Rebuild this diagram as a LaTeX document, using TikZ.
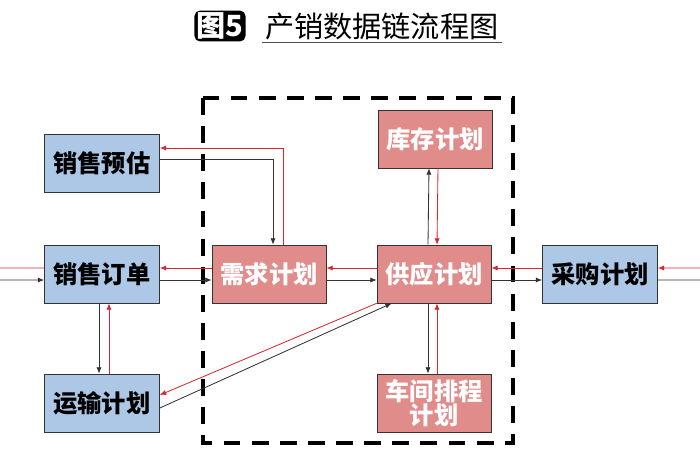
\documentclass[tikz,border=0pt]{standalone}
\usepackage{fontspec}
\setmainfont{Noto Sans CJK SC}
\usetikzlibrary{arrows.meta}
\definecolor{bluebox}{RGB}{172,200,230}
\definecolor{redbox}{RGB}{224,140,138}
\definecolor{redline}{RGB}{215,40,50}
\tikzset{
  bluenode/.style={draw=black!80, fill=bluebox, minimum width=2.875cm, minimum height=1.45cm, font=\bfseries\LARGE},
  rednode/.style={draw=black!80, fill=redbox, text=white, minimum width=2.85cm, minimum height=1.45cm, font=\bfseries\LARGE, align=center},
  blk/.style={draw=black!80, line width=0.6pt, -{Latex[length=1.6mm,width=1.3mm]}},
  rd/.style={draw=redline, line width=0.6pt, -{Latex[length=1.6mm,width=1.3mm]}}
}
\begin{document}
\begin{tikzpicture}[x=0.025cm, y=-0.025cm]
\useasboundingbox (0,0) rectangle (700,470);
% title
\node[fill=black, text=white, rounded corners=4pt, font=\bfseries\huge, inner sep=1.5pt] (tag) at (220,26) {图5};
\node[anchor=west, font=\huge, inner sep=2pt] (title) at (262,26) {产销数据链流程图};
\draw[black!70] (title.south west) -- (title.south east);

% dashed frame
\draw[line width=2.5pt, dash pattern=on 12pt off 8pt] (203,98) rectangle (513,443);

% boxes
\node[bluenode] (yg) at (102,163) {销售预估};
\node[bluenode] (dd) at (102,274) {销售订单};
\node[bluenode] (ys) at (102,403) {运输计划};
\node[rednode] (xq) at (269,274) {需求计划};
\node[rednode] (kc) at (435,139) {库存计划};
\node[rednode] (gy) at (434,274) {供应计划};
\node[rednode, inner sep=1pt] (cj) at (434,403) {车间排程\\[-5pt]计划};
\node[bluenode] (cg) at (600,274) {采购计划};

% outside ends
\coordinate (lin) at (0,280);
\coordinate (lout) at (0,268);
\coordinate (rin) at (700,268);
\coordinate (rout) at (700,280);

% horizontal links
\draw[blk] (lin) -- ([yshift=-0.15cm]dd.west);
\draw[draw=redline, line width=0.6pt] ([yshift=0.15cm]dd.west) -- (lout);
\draw[blk] ([yshift=-0.15cm]dd.east) -- ([yshift=-0.15cm]xq.west);
\draw[rd] ([yshift=0.15cm]xq.west) -- ([yshift=0.15cm]dd.east);
\draw[blk] ([yshift=-0.15cm]xq.east) -- ([yshift=-0.15cm]gy.west);
\draw[rd] ([yshift=0.15cm]gy.west) -- ([yshift=0.15cm]xq.east);
\draw[blk] ([yshift=-0.15cm]gy.east) -- ([yshift=-0.15cm]cg.west);
\draw[rd] ([yshift=0.15cm]cg.west) -- ([yshift=0.15cm]gy.east);
\draw[rd] (rin) -- ([yshift=0.15cm]cg.east);
\draw[draw=black!80, line width=0.6pt] ([yshift=-0.15cm]cg.east) -- (rout);

% forecast loop
\draw[blk] ([yshift=0.1cm]yg.east) -| ([xshift=0.1cm]xq.north);
\draw[rd] ([xshift=0.35cm]xq.north) |- ([yshift=0.375cm]yg.east);

% vertical links
\draw[blk] ([xshift=-0.075cm]dd.south) -- ([xshift=-0.075cm]ys.north);
\draw[rd] ([xshift=0.175cm]ys.north) -- ([xshift=0.175cm]dd.south);
\draw[blk] ([xshift=-0.15cm]gy.north) -- ([xshift=-0.15cm]kc.south);
\draw[rd] ([xshift=0.075cm]kc.south) -- ([xshift=0.075cm]gy.north);
\draw[blk] ([xshift=-0.15cm]gy.south) -- ([xshift=-0.15cm]cj.north);
\draw[rd] ([xshift=0.075cm]cj.north) -- ([xshift=0.075cm]gy.south);

% diagonal links
\draw[rd] (gy.south west) -- ([yshift=0.2cm]ys.east);
\draw[blk] ([yshift=-0.125cm]ys.east) -- ([xshift=0.375cm]gy.south west);
\end{tikzpicture}
\end{document}
